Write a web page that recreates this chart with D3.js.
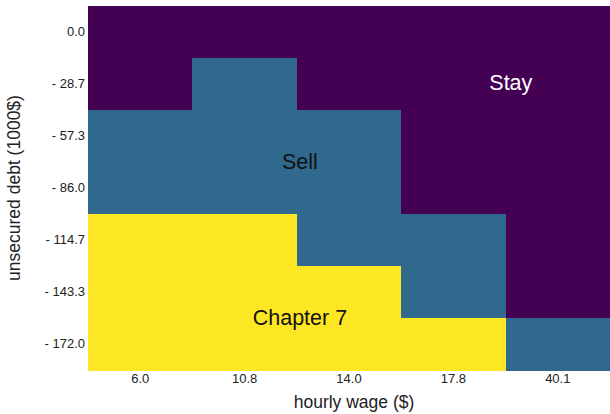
<!DOCTYPE html>
<html><head><meta charset="utf-8">
<script src="https://cdn.jsdelivr.net/npm/d3@7"></script>
<style>body{margin:0;background:#fff}svg{display:block;font-family:"Liberation Sans",Arial,sans-serif}</style>
</head><body><svg id="c" width="610" height="414"></svg>
<script>
const wages = ["6.0","10.8","14.0","17.8","40.1"];
const debts = ["0.0","- 28.7","- 57.3","- 86.0","- 114.7","- 143.3","- 172.0"];
const decisions = ["Stay","Sell","Chapter 7"];
// decision index per row (debt) and column (wage)
const grid = [
  [0,0,0,0,0],
  [0,1,0,0,0],
  [1,1,1,0,0],
  [1,1,1,0,0],
  [2,2,1,1,0],
  [2,2,2,1,0],
  [2,2,2,2,1]
];
const regionLabels = [
  {text:"Stay", wage:4.05, debt:1.48, color:"#ffffff"},
  {text:"Sell", wage:2.03, debt:3.0, color:"#111111"},
  {text:"Chapter 7", wage:2.03, debt:6.0, color:"#111111"}
];
const colors = ["#440154","#31688e","#fde725"];

const svg = d3.select("#c");
const m = {l:88, r:0, t:6, b:44};
const W = 610, H = 414;
const x = d3.scaleBand().domain(wages).range([m.l, W-m.r]);
const y = d3.scaleBand().domain(debts).range([m.t, H-m.b]);
const color = d3.scaleOrdinal().domain([0,1,2]).range(colors);

const cells = [];
grid.forEach((row,i)=>row.forEach((v,j)=>cells.push({d:debts[i], w:wages[j], v})));
svg.append("g").attr("shape-rendering","crispEdges").selectAll("rect").data(cells).join("rect")
  .attr("x", d=>x(d.w)).attr("y", d=>y(d.d))
  .attr("width", x.bandwidth()+1).attr("height", y.bandwidth()+1)
  .attr("fill", d=>color(d.v));

const xl = d3.scaleLinear().domain([0,5]).range([m.l, W-m.r]);
const yl = d3.scaleLinear().domain([0,7]).range([m.t, H-m.b]);
svg.append("g").selectAll("text").data(regionLabels).join("text")
  .attr("x", d=>xl(d.wage)).attr("y", d=>yl(d.debt))
  .attr("text-anchor","middle").attr("dominant-baseline","central")
  .attr("font-size",21.5).attr("fill", d=>d.color).text(d=>d.text);

const gx = svg.append("g").attr("transform",`translate(0,${H-m.b})`)
  .call(d3.axisBottom(x).tickSize(0).tickPadding(4));
const gy = svg.append("g").attr("transform",`translate(${m.l},0)`)
  .call(d3.axisLeft(y).tickSize(0).tickPadding(3));
[gx,gy].forEach(g=>{
  g.select(".domain").remove();
  g.selectAll("text").attr("font-size",13).attr("fill","#222").attr("font-family","Liberation Sans, Arial, sans-serif");
});

svg.append("text").attr("x",(m.l+W-m.r)/2+5).attr("y",408)
  .attr("text-anchor","middle").attr("font-size",17.5).attr("fill","#222").text("hourly wage ($)");
svg.append("text").attr("transform",`translate(20,${(m.t+H-m.b)/2}) rotate(-90)`)
  .attr("text-anchor","middle").attr("font-size",17.5).attr("fill","#222").text("unsecured debt (1000$)");
</script></body></html>
